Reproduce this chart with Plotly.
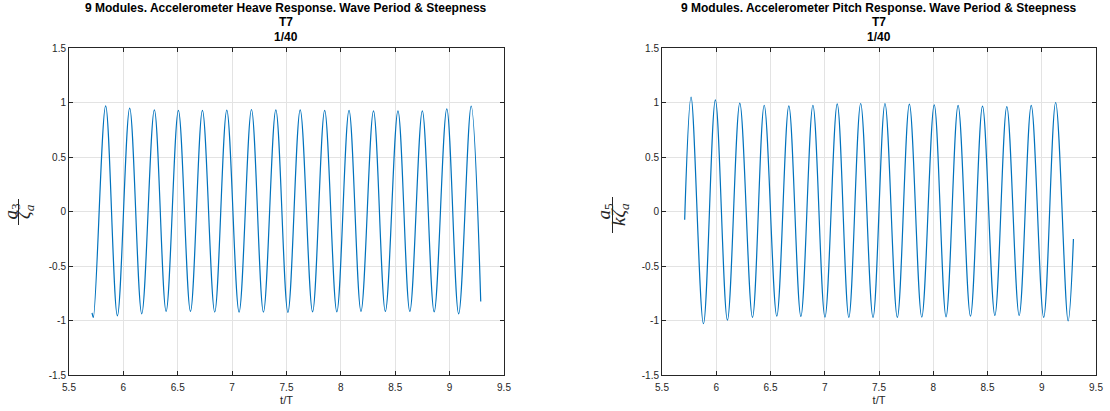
import plotly.graph_objects as go

# ---- data (turning points + end points) ----
heave_t = [5.712, 5.724, 5.837, 5.945, 6.058, 6.169, 6.285, 6.393, 6.506, 6.617, 6.727, 6.840,
           6.951, 7.064, 7.178, 7.288, 7.402, 7.513, 7.626, 7.740, 7.851, 7.963, 8.075, 8.185,
           8.300, 8.409, 8.525, 8.634, 8.749, 8.858, 8.974, 9.083, 9.198, 9.286]
heave_y = [-0.93, -0.972, 0.969, -0.957, 0.948, -0.939, 0.933, -0.917, 0.927, -0.917, 0.927, -0.923,
           0.930, -0.923, 0.936, -0.923, 0.933, -0.925, 0.933, -0.921, 0.927, -0.921, 0.927, -0.917,
           0.924, -0.917, 0.924, -0.917, 0.924, -0.921, 0.942, -0.940, 0.966, -0.826]

pitch_t = [5.709, 5.768, 5.882, 5.992, 6.103, 6.217, 6.334, 6.442, 6.558, 6.669, 6.780, 6.891,
           7.002, 7.115, 7.222, 7.331, 7.445, 7.555, 7.669, 7.780, 7.894, 8.009, 8.118, 8.229,
           8.343, 8.454, 8.568, 8.678, 8.792, 8.903, 9.018, 9.128, 9.243, 9.292]
pitch_y = [-0.076, 1.049, -1.03, 1.024, -0.997, 0.994, -0.972, 0.975, -0.96, 0.969, -0.963, 0.975,
           -0.969, 0.988, -0.972, 0.991, -0.972, 0.991, -0.972, 0.985, -0.969, 0.979, -0.966, 0.973,
           -0.960, 0.966, -0.954, 0.963, -0.954, 0.973, -0.972, 1.0, -1.003, -0.252]

x_ticks = [5.5, 6, 6.5, 7, 7.5, 8, 8.5, 9, 9.5]
x_text = ["5.5", "6", "6.5", "7", "7.5", "8", "8.5", "9", "9.5"]
y_ticks = [-1.5, -1, -0.5, 0, 0.5, 1, 1.5]
y_text = ["-1.5", "-1", "-0.5", "0", "0.5", "1", "1.5"]

titles = [["9 Modules. Accelerometer Heave Response. Wave Period & Steepness", "T7", "1/40"],
          ["9 Modules. Accelerometer Pitch Response. Wave Period & Steepness", "T7", "1/40"]]

W, H = 1110, 411
LINE = "#0072BD"
AX = "#262626"
GRID = "#e3e3e3"
SANS = "Liberation Sans, Arial"

fig = go.Figure()
fig.add_trace(go.Scatter(x=heave_t, y=heave_y, mode="lines", xaxis="x", yaxis="y",
                         line=dict(color=LINE, width=1.2, shape="spline", smoothing=1.0),
                         showlegend=False, hoverinfo="skip"))
fig.add_trace(go.Scatter(x=pitch_t, y=pitch_y, mode="lines", xaxis="x2", yaxis="y2",
                         line=dict(color=LINE, width=1.2, shape="spline", smoothing=1.0),
                         showlegend=False, hoverinfo="skip"))

ax_px = [(69, 504), (662, 1096)]
y_top, y_bot = 48, 375
ydom = [1 - y_bot / H, 1 - y_top / H]

def xax(dom, anchor):
    return dict(domain=dom, anchor=anchor, range=[5.5, 9.5], tickvals=x_ticks, ticktext=x_text,
                automargin=False,
                showgrid=True, gridcolor=GRID, gridwidth=1, zeroline=False,
                showline=True, linecolor=AX, linewidth=1, mirror="ticks",
                ticks="inside", ticklen=4, tickcolor=AX, ticklabelstandoff=3,
                tickfont=dict(family=SANS, size=10, color=AX),
                title=dict(text="t/T", font=dict(family=SANS, size=11, color=AX), standoff=4))

def yax(anchor):
    return dict(domain=ydom, anchor=anchor, range=[-1.5, 1.5], tickvals=y_ticks, ticktext=y_text,
                automargin=False,
                showgrid=True, gridcolor=GRID, gridwidth=1, zeroline=False,
                showline=True, linecolor=AX, linewidth=1, mirror="ticks",
                ticks="inside", ticklen=4, tickcolor=AX,
                tickfont=dict(family=SANS, size=10, color=AX))

fig.update_layout(
    width=W, height=H,
    margin=dict(l=0, r=0, t=0, b=0),
    paper_bgcolor="white", plot_bgcolor="white",
    xaxis=xax([ax_px[0][0] / W, ax_px[0][1] / W], "y"),
    yaxis=yax("x"),
    xaxis2=xax([ax_px[1][0] / W, ax_px[1][1] / W], "y2"),
    yaxis2=yax("x2"),
)

anns = []
line_y = [8, 22.5, 37]
for i, (a, b) in enumerate(ax_px):
    for txt, yy in zip(titles[i], line_y):
        anns.append(dict(x=(a + b) / 2 / W, y=1 - yy / H, xref="paper", yref="paper",
                         xanchor="center", yanchor="middle", showarrow=False,
                         text="<b>" + txt + "</b>",
                         font=dict(family=SANS, size=12, color="black")))

serif = "Liberation Serif, DejaVu Serif, serif"
def lab(xp, yp, txt):
    return dict(x=xp / W, y=1 - yp / H, xref="paper", yref="paper", showarrow=False,
                xanchor="center", yanchor="middle", textangle=-90, text=txt,
                font=dict(family=serif, size=19, color=AX))

# left y label: a_3 / zeta_a (rotated fraction)
anns.append(lab(11.5, 211, "<i>a</i><sub>3</sub>"))
anns.append(lab(25, 212, "<i>ζ</i><sub><i>a</i></sub>"))
# right y label: a_5 / (k zeta_a)
anns.append(lab(604.5, 211, "<i>a</i><sub>5</sub>"))
anns.append(lab(620, 215, "<i>kζ</i><sub><i>a</i></sub>"))
fig.update_layout(annotations=anns)

shapes = [
    dict(type="line", xref="paper", yref="paper", x0=18.5 / W, x1=18.5 / W, y0=1 - 199 / H, y1=1 - 225 / H,
         line=dict(color=AX, width=1)),
    dict(type="line", xref="paper", yref="paper", x0=612.5 / W, x1=612.5 / W, y0=1 - 197 / H, y1=1 - 233 / H,
         line=dict(color=AX, width=1)),
]
fig.update_layout(shapes=shapes)

fig.write_html("out.html")
